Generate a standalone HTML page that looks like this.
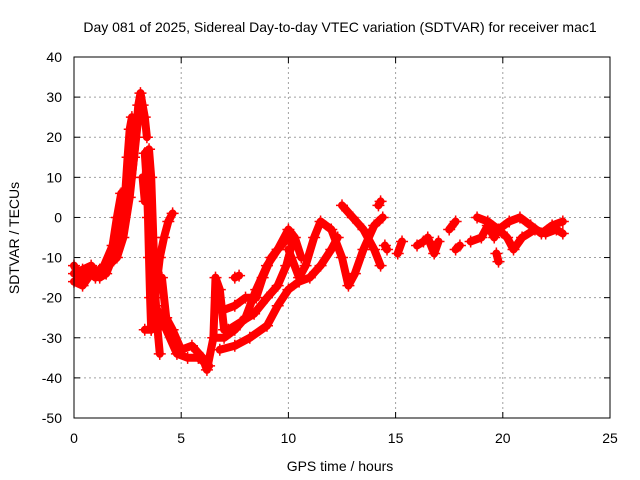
<!DOCTYPE html>
<html><head><meta charset="utf-8"><style>
body{margin:0;background:#fff;}
svg{display:block;font-family:"Liberation Sans",sans-serif;}
</style></head><body>
<svg id="chart" width="640" height="480" viewBox="0 0 640 480">
<rect x="0" y="0" width="640" height="480" fill="#fff"/>
<text x="340" y="32" text-anchor="middle" font-size="14">Day 081 of 2025, Sidereal Day-to-day VTEC variation (SDTVAR) for receiver mac1</text>
<g id="grid"></g>
<g id="marks"></g>
<rect x="74" y="57" width="536" height="361" fill="none" stroke="#000" stroke-width="1"/>
<g id="ticks"></g>
<text x="340" y="471" text-anchor="middle" font-size="14">GPS time / hours</text>
<text transform="translate(19,238) rotate(-90)" text-anchor="middle" font-size="14">SDTVAR / TECUs</text>
</svg>
<script>
const xTicks=[0,5,10,15,20,25];
const yTicks=[40,30,20,10,0,-10,-20,-30,-40,-50];
const traceA=[[0,-12],[0.3,-15],[0.6,-13],[1.0,-15],[1.4,-12],[1.8,-7],[2.0,0],[2.2,6],[2.4,7],[2.5,15],[2.6,22],[2.7,25]];
const traceB=[[0,-16],[0.4,-17],[0.8,-14],[1.2,-13],[1.6,-12],[2.0,-10],[2.3,-5],[2.6,5],[2.8,15],[3.0,28],[3.1,31],[3.2,28],[3.3,25],[3.4,20]];
const traceB2=[[0,-14],[0.4,-13],[0.8,-12],[1.2,-15],[1.5,-14],[1.8,-10],[2.1,-3],[2.3,3],[2.5,6],[2.7,10],[2.9,20],[3.0,25]];
const traceC=[[3.2,10],[3.3,4],[3.4,8],[3.5,17],[3.6,10],[3.7,-5],[3.8,-20],[3.9,-28],[4.0,-34]];
const traceC2=[[3.3,16],[3.4,8],[3.45,0],[3.5,-10],[3.55,-20],[3.6,-28]];
const traceD=[[3.3,-28],[3.6,-28],[4.0,-10],[4.2,-5],[4.4,-1],[4.6,1]];
const traceE=[[4.1,-15],[4.3,-25],[4.6,-28],[5.0,-33],[5.5,-32],[6.0,-35],[6.2,-38],[6.5,-30],[6.6,-15],[6.8,-18],[7.0,-28]];
const traceF=[[3.8,-22],[4.3,-28],[4.8,-34],[5.3,-35],[5.8,-35],[6.3,-37]];
const traceG=[[6.5,-30],[7.0,-30],[7.5,-28],[8.0,-25],[8.5,-18],[9.0,-12],[9.5,-8],[10,-3],[10.3,-5],[10.6,-10]];
const traceH=[[6.8,-33],[7.5,-32],[8.2,-30],[9.0,-27],[9.5,-22],[10,-18],[10.5,-16],[11,-15],[11.5,-12],[12,-8],[12.3,-5]];
const traceI=[[7.0,-23],[7.5,-22],[8,-20],[8.5,-20],[8.8,-15],[9.2,-10],[9.5,-8],[10,-5]];
const traceI2=[[7.2,-28],[7.8,-26],[8.4,-24],[9.0,-20],[9.5,-17],[9.9,-12],[10.2,-6]];
const traceJ=[[7.5,-15],[7.7,-14.5]];
const traceK=[[10,-8],[10.5,-15],[10.8,-12],[11.2,-5],[11.5,-1],[12,-3],[12.5,-10],[12.8,-17],[13.1,-14],[13.5,-8],[14,-2],[14.4,0]];
const traceL=[[12.5,3],[13,0],[13.5,-3],[14,-8],[14.3,-12]];
const traceM=[[14.2,3],[14.3,4]];
const traceN=[[14.5,-7],[14.6,-8]];
const traceO=[[15.1,-9],[15.3,-6]];
const traceP=[[16.0,-7],[16.3,-6]];
const traceQ=[[16.5,-5],[16.8,-9],[17.0,-6]];
const traceR=[[17.5,-3],[17.8,-1]];
const traceS=[[17.8,-8],[18.0,-7]];
const traceT=[[18.5,-6],[19,-5],[19.3,-2],[19.6,-5],[19.8,-3],[20.2,-5],[20.5,-8],[20.9,-5],[21.5,-3],[22,-4],[22.5,-3],[22.8,-4]];
const traceU=[[18.8,0],[19.3,-1],[19.8,-3],[20.3,-1],[20.8,0],[21.3,-2],[21.8,-4],[22.3,-2],[22.8,-1]];
const traceV=[[19.7,-9],[19.8,-11]];
const traces=[traceA,traceB,traceB2,traceC,traceC2,traceD,traceE,traceF,traceG,traceH,traceI,traceI2,traceJ,traceK,traceL,traceM,traceN,traceO,traceP,traceQ,traceR,traceS,traceT,traceU,traceV];
const X0=74,X1=610,Y0=57,Y1=418;
function xs(t){return X0+(t-0)/(25-0)*(X1-X0);}
function ys(v){return Y1-(v-(-50))/(40-(-50))*(Y1-Y0);}
const NS="http://www.w3.org/2000/svg";
const grid=document.getElementById('grid'),ticks=document.getElementById('ticks'),marks=document.getElementById('marks');
function mk(tag,attrs,parent){const e=document.createElementNS(NS,tag);for(const k in attrs)e.setAttribute(k,attrs[k]);parent.appendChild(e);return e;}
xTicks.forEach(t=>{const x=xs(t);
 if(t>0&&t<25){const g=mk('line',{x1:x,x2:x,y1:Y0,y2:Y1,stroke:'#a0a0a0','stroke-dasharray':'2,3'},grid);
 
 }
 const l=mk('line',{x1:x,x2:x,y1:Y1,y2:Y1-6,stroke:'#000'},ticks);
 
 
 const l2=mk('line',{x1:x,x2:x,y1:Y0,y2:Y0+6,stroke:'#000'},ticks);
 
 
 const tx=mk('text',{x:x,y:443,'text-anchor':'middle','font-size':'14'},ticks);tx.textContent=t;
 
 
});
yTicks.forEach(v=>{const y=ys(v);
 if(v<40&&v>-50){const g=mk('line',{x1:X0,x2:X1,y1:y,y2:y,stroke:'#a0a0a0','stroke-dasharray':'2,3'},grid);
 
 }
 const l=mk('line',{x1:X0,x2:X0+6,y1:y,y2:y,stroke:'#000'},ticks);
 
 
 const l2=mk('line',{x1:X1,x2:X1-6,y1:y,y2:y,stroke:'#000'},ticks);
 
 
 const tx=mk('text',{x:62,y:y+5,'text-anchor':'end','font-size':'14'},ticks);tx.textContent=v;
 
 
});
traces.forEach(tr=>{
 const pts=tr.map(p=>xs(p[0]).toFixed(1)+','+ys(p[1]).toFixed(1)).join(' ');
 const pl=mk('polyline',{points:pts,fill:'none',stroke:'#ff0000','stroke-width':'8','stroke-linejoin':'round','stroke-linecap':'round'},marks);
 
 
 tr.forEach(p=>{const x=xs(p[0]),y=ys(p[1]);
  const pm=mk('path',{d:`M${x-6},${y}H${x+6}M${x},${y-6}V${y+6}`,stroke:'#ff0000','stroke-width':'1.5'},marks);
  
  
 });
});
</script>
</body></html>
